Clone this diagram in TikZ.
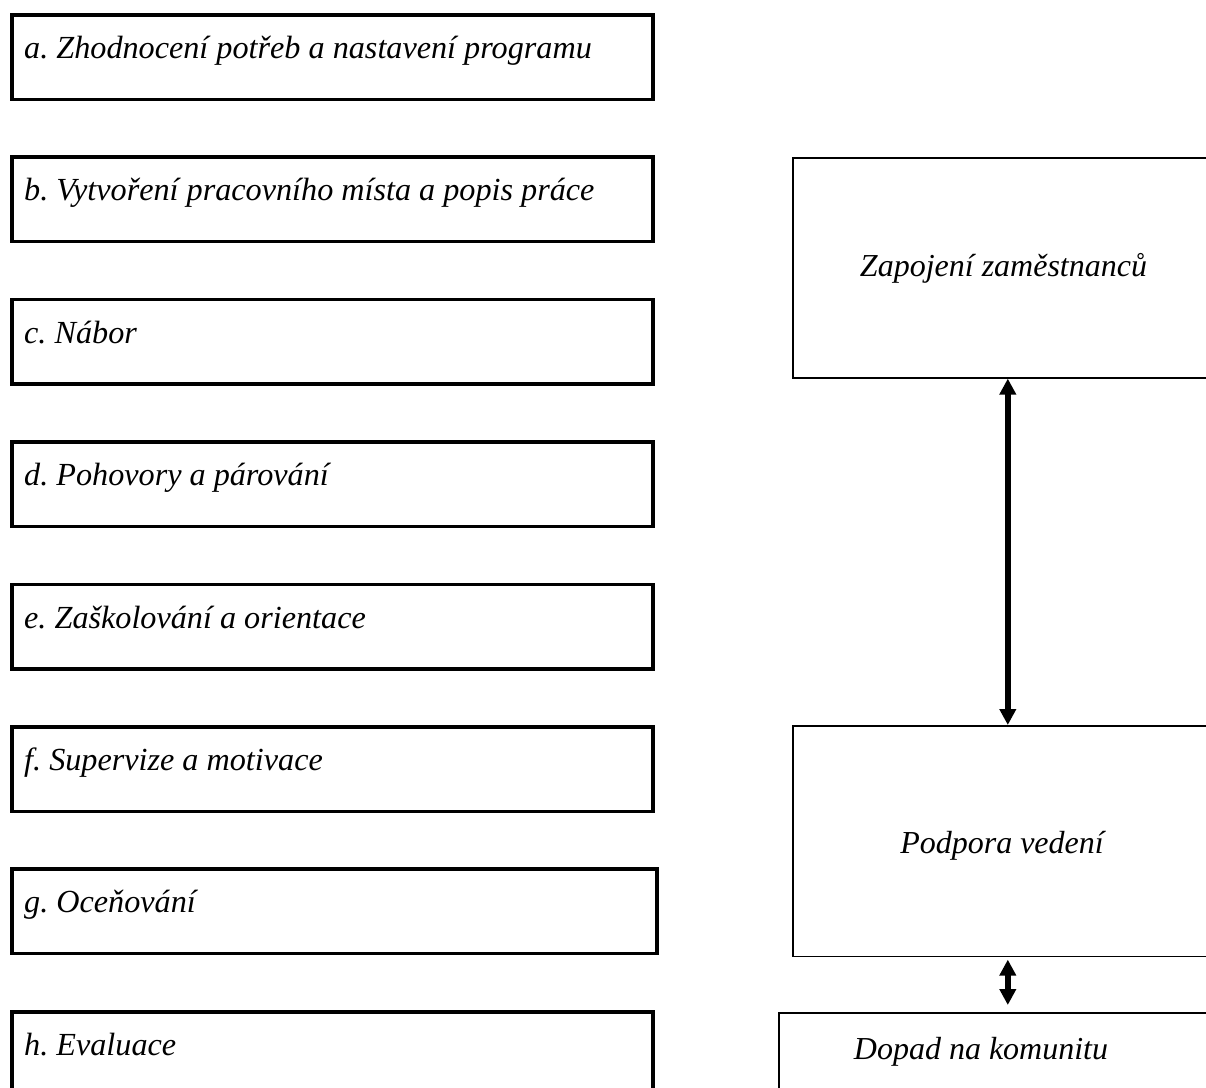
\documentclass[tikz,border=0pt]{standalone}
\usepackage{fontspec}
\setmainfont{Liberation Serif}
\usetikzlibrary{arrows.meta,calc}
\begin{document}
\frenchspacing
\begin{tikzpicture}[x=1pt,y=-1pt,
  lbox/.style={draw=black,line width=3.6pt,minimum width=641pt,minimum height=84.5pt,anchor=north west,inner sep=0pt},
  rbox/.style={draw=black,line width=1.6pt,anchor=north west,inner sep=0pt},
  ltext/.style={anchor=base west,inner sep=0pt,font=\fontsize{32.2}{36}\selectfont\itshape},
  rtext/.style={anchor=base,inner sep=0pt,font=\fontsize{32}{36}\selectfont\itshape},
  bigarrow/.style={line width=5.5pt,{Triangle[width=16pt,length=16pt]}-{Triangle[width=16pt,length=16pt]}}
]
\useasboundingbox (0,0) rectangle (1206,1087);
\clip (0,0) rectangle (1206,1087);
% left boxes
\node[lbox] (ba) at (10,13) {};
\node[lbox] (bb) at (10,155) {};
\node[lbox] (bc) at (10,297.5) {};
\node[lbox] (bd) at (10,440) {};
\node[lbox] (be) at (10,582.5) {};
\node[lbox] (bf) at (10,725) {};
\node[lbox,minimum width=645pt] (bg) at (10,867) {};
\node[lbox,minimum height=120pt] (bh) at (10,1010) {};
\node[ltext] (ta) at ($(ba.north west)+(14,45.5)$) {a. Zhodnocení potřeb a nastavení programu};
\node[ltext] (tb) at ($(bb.north west)+(14,45.5)$) {b. Vytvoření pracovního místa a popis práce};
\node[ltext] (tc) at ($(bc.north west)+(14,45.5)$) {c. Nábor};
\node[ltext] (td) at ($(bd.north west)+(14,45.5)$) {d. Pohovory a párování};
\node[ltext] (te) at ($(be.north west)+(14,45.5)$) {e. Zaškolování a orientace};
\node[ltext] (tf) at ($(bf.north west)+(14,45.5)$) {f. Supervize a motivace};
\node[ltext] (tg) at ($(bg.north west)+(14,45.5)$) {g. Oceňování};
\node[ltext] (th) at ($(bh.north west)+(14,45.5)$) {h. Evaluace};
% right boxes
\node[rbox,minimum width=430pt,minimum height=220pt] (rz) at (792,157) {};
\node[rbox,minimum width=430pt,minimum height=230.5pt] (rp) at (792,725) {};
\node[rbox,minimum width=458pt,minimum height=120pt] (rd) at (778,1012) {};
\node[rtext] (tz) at ($(rz.north west)+(211.5,119)$) {Zapojení zaměstnanců};
\node[rtext] (tp) at ($(rp.north west)+(210,128)$) {Podpora vedení};
\node[rtext] (td2) at ($(rd.north west)+(203,47)$) {Dopad na komunitu};
% arrows
\draw[bigarrow] (rz.south) -- (rp.north);
\draw[bigarrow,shorten <=2.5pt,shorten >=7pt] (rp.south) -- (rd.north);
\end{tikzpicture}
\end{document}
